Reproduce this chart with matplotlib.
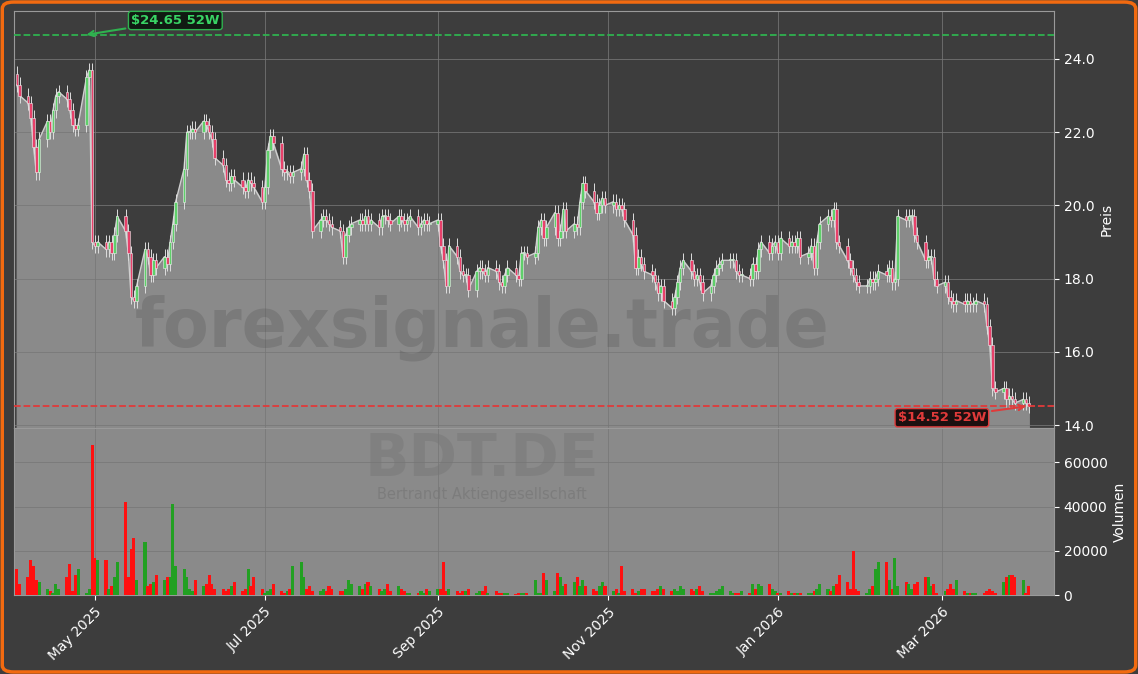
import numpy as np
import pandas as pd
import matplotlib
matplotlib.use("Agg")
import matplotlib.pyplot as plt
import matplotlib.dates as mdates
from matplotlib.patches import FancyBboxPatch

# daily closes
closes = [
    23.3, 23.0, 22.8, 22.4, 21.6, 20.9, 21.8, 22.3, 22.0, 22.6,
    23.0, 23.1, 22.9, 22.6, 22.2, 22.1, 22.2, 23.5, 23.7, 19.0,
    18.9, 19.0, 18.8, 19.0, 18.7, 19.2, 19.7, 19.3, 18.7, 17.5,
    17.4, 17.8, 18.8, 18.6, 18.1, 18.5, 18.3, 18.6, 18.4, 19.0,
    19.5, 20.1, 21.0, 22.0, 22.0, 22.1, 22.0, 22.3, 22.2, 22.0,
    21.8, 21.3, 21.1, 20.7, 20.6, 20.8, 20.7, 20.5, 20.4, 20.7, 20.6,
    20.5, 20.1, 20.5, 21.5, 21.9, 21.7, 21.0, 20.9, 20.9, 20.8,
    20.9, 21.0, 21.4, 20.7, 20.4, 19.3, 19.6, 19.7, 19.6, 19.5,
    19.4, 19.3, 18.6, 19.2, 19.4, 19.5, 19.6, 19.5, 19.7, 19.5,
    19.6, 19.4, 19.7, 19.7, 19.6, 19.5, 19.7, 19.6, 19.5, 19.6,
    19.7, 19.4, 19.5, 19.6, 19.5, 19.5, 19.6, 18.9, 18.5, 17.8,
    18.9, 18.6, 18.2, 18.1, 18.1, 17.7, 18.2, 18.3, 18.2, 18.1,
    18.3, 18.2, 17.9, 17.8, 18.1, 18.3, 18.1, 18.0, 18.7, 18.7, 18.6,
    18.7, 19.4, 19.6, 19.1, 19.4, 19.8, 19.1, 19.3, 19.9, 19.3,
    19.5, 19.4, 20.1, 20.6, 20.4, 20.1, 19.8, 20.0, 20.2, 20.0,
    20.1, 19.9, 20.0, 19.9, 19.6, 19.2, 18.3, 18.6, 18.4, 18.2, 18.1,
    17.9, 17.6, 17.8, 17.4, 17.2, 17.5, 17.9, 18.3, 18.5, 18.2,
    18.0, 18.1, 17.9, 17.6, 17.8, 18.1, 18.3, 18.4, 18.5, 18.5,
    18.5, 18.2, 18.1, 18.1, 18.0, 18.4, 18.2, 18.8, 19.0, 18.7,
    18.9, 19.0, 18.7, 19.1, 18.9, 19.0, 18.9, 19.1, 18.6, 18.7,
    18.9, 18.3, 19.0, 19.5, 19.7, 19.6, 19.9, 19.0, 18.9, 18.5, 18.3,
    18.1, 17.9, 17.8, 17.8, 18.0, 17.9, 18.0, 18.2, 18.1, 18.3,
    17.9, 18.0, 19.7, 19.6, 19.7, 19.7, 19.2, 19.0, 18.5, 18.6,
    18.6, 18.0, 17.8, 17.9, 17.5, 17.4, 17.3, 17.4, 17.3, 17.4, 17.3,
    17.3, 17.4, 17.3, 16.7, 16.2, 15.0, 14.9, 15.0, 14.7, 14.8,
    14.7, 14.6, 14.7, 14.6, 14.52,
]
first_open = 23.6

# daily volume in thousands of shares
volumes_k = [
    12, 5, 8, 16, 13, 7, 6, 3, 2, 1,
    5, 3, 8, 14, 2, 9, 12, 1, 3, 68,
    17, 16, 16, 3, 4, 8, 15, 42, 8, 21,
    26, 7, 24, 4, 5, 6, 9, 7, 8, 8,
    41, 13, 12, 8, 3, 2, 7, 4, 5, 9,
    5, 3, 3, 2, 3, 4, 6, 2, 3, 12, 4,
    8, 3, 1, 2, 3, 5, 2, 1, 2, 3,
    13, 15, 8, 3, 4, 2, 2, 3, 2, 4,
    3, 2, 2, 3, 7, 5, 4, 3, 5, 6,
    4, 3, 2, 3, 5, 2, 4, 3, 2, 1,
    1, 1, 2, 1, 3, 2, 3, 3, 15, 2,
    3, 2, 1, 2, 2, 3, 1, 2, 2, 4,
    1, 2, 1, 1, 1, 1, 0.5, 1, 1, 1, 1,
    7, 1, 1, 10, 7, 2, 10, 8, 4, 5,
    6, 8, 4, 7, 4, 3, 2, 4, 6, 4,
    2, 3, 1, 13, 2, 3, 1, 2, 3, 3, 2,
    2, 3, 4, 3, 2, 3, 2, 4, 3, 3,
    2, 3, 4, 2, 1, 1, 2, 3, 4, 2,
    1, 1, 1, 2, 1, 5, 3, 5, 4, 5,
    3, 2, 1, 1, 2, 1, 1, 1, 1, 1,
    1, 2, 3, 5, 3, 2, 4, 5, 9, 6, 3,
    20, 3, 2, 1, 3, 4, 12, 15, 15, 7,
    3, 17, 4, 6, 5, 3, 5, 6, 8, 8,
    4, 5, 1, 2, 3, 5, 3, 7, 2, 1, 1,
    1, 1, 1, 2, 3, 2, 1, 6, 8, 9,
    9, 8, 7, 1, 4,
]

high_52w = 24.65
low_52w = 14.52
ticker = "BDT.DE"
company = "Bertrandt Aktiengesellschaft"

BG = "#3d3d3d"
FILL = "#8a8a8a"
UP = "#5fd06a"
DOWN = "#e8406a"

closes = np.array(closes)
opens = np.concatenate([[first_open], closes[:-1]])
volumes = np.array(volumes_k) * 1000
dates = pd.bdate_range("2025-04-03", periods=len(closes))
x = mdates.date2num(dates)
up = closes >= opens

fig = plt.figure(figsize=(11.38, 6.74), dpi=100, facecolor=BG)
ax = fig.add_axes([0.0123, 0.365, 0.9137, 0.6187])
axv = fig.add_axes([0.0123, 0.117, 0.9137, 0.248], sharex=ax)

for a in (ax, axv):
    a.set_facecolor(BG)
    for s in a.spines.values():
        s.set_color("#9a9a9a")
    a.yaxis.tick_right()
    a.yaxis.set_label_position("right")
    a.tick_params(colors="white", labelsize=10)
    a.grid(True, color="#777777", linewidth=0.7, alpha=0.8)

# price panel
ax.fill_between(x, closes, 13.0, color=FILL, zorder=1)
ax.plot(x, closes, color="#cfcfcf", linewidth=1.0, zorder=2)
body_w = 0.9
for xi, o, c, u in zip(x, opens, closes, up):
    lo, hi = min(o, c), max(o, c)
    ax.vlines(xi, lo - 0.2, hi + 0.2, color="#dddddd", linewidth=0.7, zorder=3)
    ax.bar(xi, max(hi - lo, 0.03), bottom=lo, width=body_w,
           color=UP if u else DOWN, edgecolor="#eeeeee", linewidth=0.4, zorder=4)

ax.axhline(high_52w, color="#2fb24f", linestyle="--", linewidth=1.3, zorder=5)
ax.axhline(low_52w, color="#e03a3a", linestyle="--", linewidth=1.3, zorder=5)
i_hi = int(np.argmax(closes[:25])) + 1
ax.annotate(f"${high_52w:.2f} 52W", xy=(x[i_hi] - 3, high_52w), xytext=(x[i_hi] + 14, 25.05),
            color="#39d465", fontsize=9.5, fontweight="bold", va="center",
            bbox=dict(boxstyle="round,pad=0.2", fc="#101a12", ec="#2fb24f"),
            arrowprops=dict(arrowstyle="->", color="#2fb24f", lw=1.5), zorder=6)
ax.annotate(f"${low_52w:.2f} 52W", xy=(x[-1], low_52w), xytext=(x[-1] - 47, 14.2),
            color="#e03a3a", fontsize=9.5, fontweight="bold", va="center",
            bbox=dict(boxstyle="round,pad=0.2", fc="#1c1010", ec="#e03a3a"),
            arrowprops=dict(arrowstyle="->", color="#e03a3a", lw=1.5), zorder=6)

ax.set_ylim(13.92, 25.31)
ax.set_yticks([14, 16, 18, 20, 22, 24])
ax.yaxis.set_major_formatter(matplotlib.ticker.FormatStrFormatter("%.1f"))
ax.set_ylabel("Preis", color="white", fontsize=10)
ax.tick_params(axis="x", labelbottom=False, length=0)
ax.text(0.45, 0.24, "forexsignale.trade", transform=ax.transAxes, ha="center", va="center",
        fontsize=48, fontweight="bold", color="#555555", alpha=0.3, zorder=2.5)

# volume panel
axv.set_facecolor(FILL)
axv.bar(x, volumes, width=1.1, color=np.where(up, "#22a022", "#ff1010"), zorder=3)
axv.set_ylim(0, 75500)
axv.set_yticks([0, 20000, 40000, 60000])
axv.set_ylabel("Volumen", color="white", fontsize=10)
axv.text(0.45, 0.81, ticker, transform=axv.transAxes, ha="center", va="center",
         fontsize=42, fontweight="bold", color="#777777", alpha=0.5, zorder=2)
axv.text(0.45, 0.6, company, transform=axv.transAxes, ha="center", va="center",
         fontsize=10.5, color="#777777", alpha=0.7, zorder=2)

axv.set_xlim(mdates.date2num(pd.Timestamp("2025-04-02")), mdates.date2num(pd.Timestamp("2026-04-10")))
axv.xaxis.set_major_locator(mdates.MonthLocator(bymonth=[1, 3, 5, 7, 9, 11]))
axv.xaxis.set_major_formatter(mdates.DateFormatter("%b %Y"))
plt.setp(axv.get_xticklabels(), rotation=45, ha="right", rotation_mode="anchor")

fig.patches.append(FancyBboxPatch((0.002, 0.003), 0.996, 0.994, boxstyle="round,pad=0,rounding_size=0.01",
                                  transform=fig.transFigure, fill=False, ec="#f26a10", lw=2.5))

fig.savefig("out.png", dpi=100, facecolor=BG)
